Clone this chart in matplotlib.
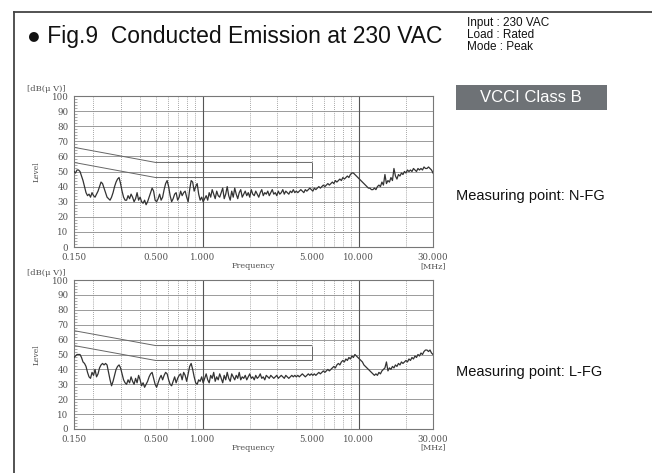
import matplotlib
matplotlib.use("Agg")
import matplotlib.pyplot as plt
from matplotlib.lines import Line2D
from matplotlib.patches import Rectangle
from matplotlib.ticker import FixedLocator, MultipleLocator
import numpy as np

# measured levels [dB(uV)], sweep 0.15 - 30 MHz (log-spaced points)
level_nfg = [
    50, 49, 51, 51, 50, 47, 44, 40, 36, 34, 35, 33, 36, 34, 33, 35, 37, 40, 43, 42,
    39, 36, 33, 32, 31, 33, 36, 40, 43, 45, 46, 42, 37, 33, 31, 31, 34, 32, 35, 33,
    30, 32, 36, 31, 33, 30, 29, 31, 28, 30, 33, 36, 39, 37, 31, 30, 32, 35, 31, 33,
    38, 42, 44, 40, 34, 30, 32, 35, 36, 31, 33, 37, 34, 36, 37, 33, 30, 38, 44, 43,
    37, 40, 42, 35, 31, 33, 30, 32, 34, 31, 36, 33, 38, 35, 32, 37, 34, 33, 36, 39,
    32, 35, 40, 34, 31, 37, 33, 39, 35, 32, 36, 38, 33, 35, 37, 34, 36, 33, 38, 35,
    34, 37, 35, 33, 36, 38, 34, 36, 35, 37, 34, 36, 38, 35, 36, 34, 37, 35, 36, 38,
    35, 37, 36, 35, 37, 36, 38, 36, 37, 36, 37, 38, 37, 36, 38, 37, 38, 39, 38, 37,
    39, 38, 39, 40, 39, 40, 41, 40, 41, 42, 41, 42, 43, 42, 44, 43, 44, 45, 44, 46,
    45, 46, 47, 46, 48, 49, 49, 48, 47, 46, 45, 44, 43, 42, 41, 40, 39, 39, 38, 38,
    39, 38, 40, 41, 40, 43, 41, 48, 42, 44, 43, 46, 44, 52, 47, 45, 48, 47, 49, 48,
    50, 49, 51, 50, 51, 50, 52, 51, 50, 52, 51, 52, 51, 53, 52, 52, 53, 52, 51, 49,
]
level_lfg = [
    48, 49, 50, 50, 50, 48, 45, 44, 42, 38, 35, 34, 38, 36, 40, 35, 37, 41, 43, 44,
    43, 44, 43, 38, 33, 29, 32, 36, 40, 42, 43, 41, 37, 33, 31, 30, 33, 31, 35, 32,
    30, 34, 31, 36, 33, 29, 31, 28, 30, 32, 35, 37, 38, 34, 30, 28, 31, 34, 36, 33,
    36, 38, 37, 33, 30, 29, 32, 35, 31, 34, 36, 37, 33, 38, 36, 32, 37, 42, 44, 40,
    35, 31, 30, 33, 32, 35, 31, 34, 37, 33, 31, 36, 34, 38, 32, 35, 33, 37, 34, 31,
    36, 33, 38, 34, 32, 37, 35, 33, 36, 34, 38, 33, 35, 34, 36, 33, 35, 37, 34, 35,
    33, 36, 34, 35, 37, 34, 35, 33, 36, 35, 34, 36, 35, 34, 35, 36, 34, 35, 36, 35,
    34, 36, 35, 34, 35, 36, 35, 36, 35, 36, 35, 36, 37, 36, 35, 36, 37, 36, 37, 36,
    37, 36, 37, 38, 37, 38, 39, 38, 39, 40, 39, 40, 41, 42, 41, 43, 44, 43, 45, 46,
    45, 47, 46, 48, 47, 49, 48, 50, 49, 48, 47, 46, 45, 43, 42, 41, 40, 39, 38, 37,
    36, 37, 36, 38, 37, 39, 40, 41, 45, 39, 41, 40, 42, 41, 43, 42, 44, 43, 45, 44,
    45, 46, 45, 47, 46, 48, 47, 49, 48, 50, 49, 51, 50, 52, 53, 53, 52, 53, 51, 50,
]

# VCCI class B limit lines as drawn on the plot (0.15 - 5 MHz)
limit_freq = [0.15, 0.5, 5.0]
limit_qp = [66, 56, 56]
limit_av = [56, 46, 46]

xtick_vals = [0.15, 0.5, 1.0, 5.0, 10.0, 30.0]
xtick_labels = ["0.150", "0.500", "1.000", "5.000", "10.000", "30.000"]
dotted_freqs = [0.2, 0.3, 0.4, 0.5, 0.6, 0.7, 0.8, 0.9,
                2, 3, 4, 5, 6, 7, 8, 9, 20]
solid_freqs = [1.0, 10.0]

W, H = 652, 473
serif = "DejaVu Serif"
sans = "Liberation Sans"
gray_txt = "#505050"


def px_box(left, top, right, bottom):
    return [left / W, 1 - bottom / H, (right - left) / W, (bottom - top) / H]


def draw_panel(ax, level):
    freq = np.geomspace(0.15, 30, len(level))
    ax.set_xscale("log")
    ax.set_xlim(0.15, 30)
    ax.set_ylim(0, 100)
    for y in range(10, 100, 10):
        ax.axhline(y, color="#8a8a8a", lw=0.6, zorder=1)
    for f in dotted_freqs:
        ax.axvline(f, color="#8a8a8a", lw=0.6, ls=(0, (1, 1.5)), zorder=1)
    for f in solid_freqs:
        ax.axvline(f, color="#555555", lw=0.8, zorder=1)
    ax.plot(limit_freq, limit_qp, color="#666666", lw=0.7, zorder=2)
    ax.plot(limit_freq, limit_av, color="#666666", lw=0.7, zorder=2)
    ax.vlines(limit_freq[-1], limit_av[-1], limit_qp[-1], color="#666666", lw=0.7, zorder=2)
    ax.plot(freq, level, color="#333333", lw=0.9, zorder=3)

    ax.xaxis.set_major_locator(FixedLocator(xtick_vals))
    ax.xaxis.set_minor_locator(FixedLocator([]))
    ax.set_xticklabels(xtick_labels)
    ax.yaxis.set_major_locator(MultipleLocator(10))
    ax.yaxis.set_minor_locator(MultipleLocator(2))
    ax.tick_params(axis="x", length=0, pad=4, labelsize=6.2, labelcolor=gray_txt)
    ax.tick_params(axis="y", which="major", length=0, pad=4, labelsize=6.2,
                   labelcolor=gray_txt)
    ax.tick_params(axis="y", which="minor", direction="in", length=2.5,
                   width=0.5, color="#888888")
    for lab in ax.get_xticklabels() + ax.get_yticklabels():
        lab.set_family(serif)
    for sp in ax.spines.values():
        sp.set_color("#777777")
        sp.set_linewidth(0.8)
    ax.set_ylabel("Level", family=serif, fontsize=5.5, color=gray_txt, labelpad=8)
    ax.text(-0.022, 1.045, "[dB(\u03bc V)]", transform=ax.transAxes, family=serif,
            fontsize=6, color=gray_txt, ha="right", va="center")
    ax.text(0.5, -0.125, "Frequency", transform=ax.transAxes, family=serif,
            fontsize=5.8, color=gray_txt, ha="center", va="center")
    ax.text(1.0, -0.125, "[MHz]", transform=ax.transAxes, family=serif,
            fontsize=5.8, color=gray_txt, ha="center", va="center")


fig = plt.figure(figsize=(W / 100, H / 100), dpi=100)
fig.patch.set_facecolor("white")

# outer frame (left and top edges visible)
fig.add_artist(Line2D([14 / W, 14 / W], [0, 1 - 12 / H], color="#444444", lw=1.3))
fig.add_artist(Line2D([14 / W, 1], [1 - 12 / H, 1 - 12 / H], color="#444444", lw=1.3))

fig.text(27 / W, 1 - 36 / H, "\u25cf Fig.9  Conducted Emission at 230 VAC",
         family=sans, fontsize=16.5, color="#111111", ha="left", va="center")
fig.text(467 / W, 1 - 35 / H, "Input : 230 VAC\nLoad : Rated\nMode : Peak",
         family=sans, fontsize=8.5, color="#111111", ha="left", va="center",
         linespacing=1.0)

box = Rectangle((456 / W, 1 - 110 / H), (607 - 456) / W, 25 / H,
                transform=fig.transFigure, facecolor="#6e7276", edgecolor="none")
fig.add_artist(box)
fig.text(531 / W, 1 - 97.5 / H, "VCCI Class B", family=sans, fontsize=12,
         color="white", ha="center", va="center")

fig.text(456 / W, 1 - 196 / H, "Measuring point: N-FG", family=sans,
         fontsize=10.5, color="#111111", ha="left", va="center")
fig.text(456 / W, 1 - 372 / H, "Measuring point: L-FG", family=sans,
         fontsize=10.5, color="#111111", ha="left", va="center")

ax1 = fig.add_axes(px_box(74, 96, 433, 247))
draw_panel(ax1, level_nfg)
ax2 = fig.add_axes(px_box(74, 280, 433, 429))
draw_panel(ax2, level_lfg)

fig.savefig("out.png", dpi=100)
